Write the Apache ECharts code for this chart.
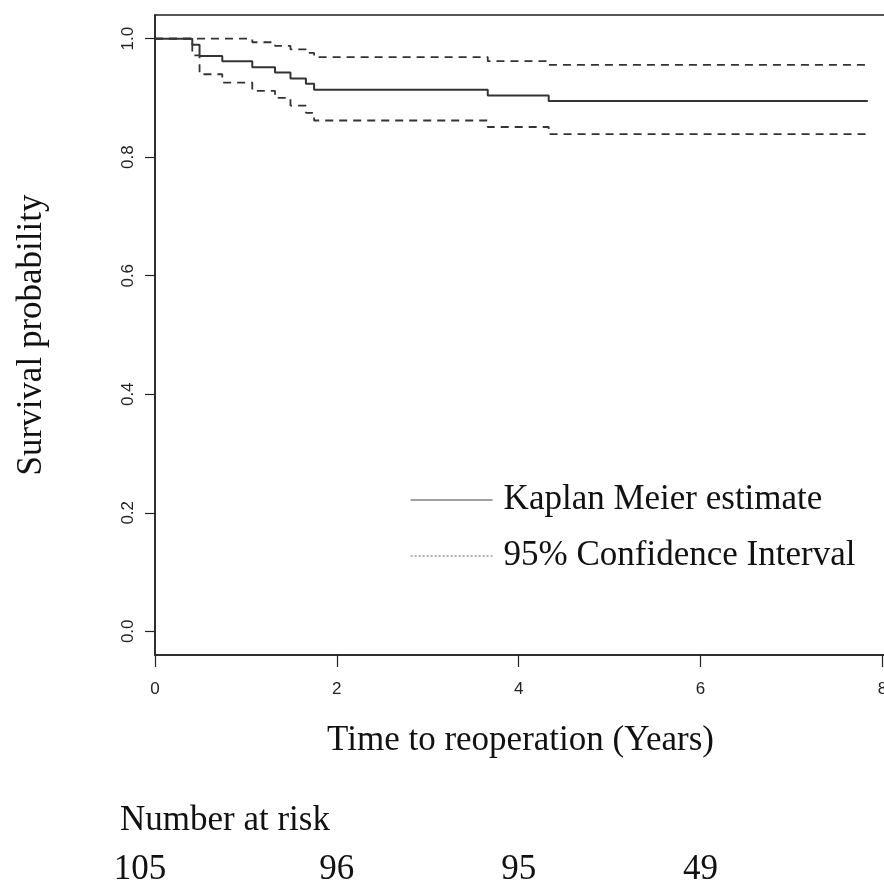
<!DOCTYPE html>
<html><head><meta charset="utf-8">
<script src="https://cdn.jsdelivr.net/npm/echarts@6/dist/echarts.min.js"></script>
<style>html,body{margin:0;padding:0;background:#fff}#c{width:884px;height:893px}</style>
</head><body><div id="c"></div>
<script>
// Kaplan-Meier estimate (time in years, survival probability)
const kmTimes = [0, 0.41, 0.49, 0.74, 1.07, 1.32, 1.49, 1.66, 1.75, 3.66, 4.33, 7.84];
const kmSurv  = [1, 0.990, 0.971, 0.962, 0.952, 0.943, 0.933, 0.924, 0.914, 0.904, 0.895, 0.895];
const ciUpper = [1, 1, 1, 1, 0.994, 0.988, 0.982, 0.976, 0.969, 0.962, 0.956, 0.956];
const ciLower = [1, 0.972, 0.940, 0.926, 0.912, 0.900, 0.887, 0.875, 0.862, 0.851, 0.839, 0.839];
const xTicks = [0, 2, 4, 6, 8];
const yTicks = [0, 0.2, 0.4, 0.6, 0.8, 1.0];
const riskTimes = [0, 2, 4, 6];
const riskCounts = [105, 96, 95, 49];

const SERIF = "'Liberation Serif', 'Times New Roman', serif";
const SANS = "'Liberation Sans', Arial, Helvetica, sans-serif";
const LINE = '#333';

const chart = echarts.init(document.getElementById('c'), null, {renderer: 'canvas'});
const pair = (ys) => kmTimes.map((t, i) => [t, ys[i]]);

chart.setOption({
  animation: false,
  backgroundColor: '#fff',
  grid: [
    {left: 155, top: 15, width: 731, height: 640, show: true, borderColor: '#222', borderWidth: 1.5,
     backgroundColor: 'transparent', outerBoundsMode: 'none', containLabel: false},
    {left: 155, top: 850, width: 731, height: 40, show: false, outerBoundsMode: 'none', containLabel: false}
  ],
  xAxis: [
    {
      type: 'value', gridIndex: 0, min: 0, max: 8.04,
      name: 'Time to reoperation (Years)', nameLocation: 'middle', nameGap: 68,
      nameTextStyle: {fontFamily: SERIF, fontSize: 35, color: '#111'},
      axisLine: {show: true, onZero: false, lineStyle: {color: '#222', width: 1.5}},
      axisTick: {show: true, inside: false, length: 12, customValues: xTicks, lineStyle: {color: '#222', width: 1.2}},
      axisLabel: {show: true, customValues: xTicks, margin: 26, fontFamily: SANS, fontSize: 17, color: '#222'},
      splitLine: {show: false}
    },
    {type: 'value', gridIndex: 1, min: 0, max: 8.04, show: false}
  ],
  yAxis: [
    {
      type: 'value', gridIndex: 0, min: -0.04, max: 1.04,
      name: 'Survival probability', nameLocation: 'middle', nameGap: 106, nameRotate: 90,
      nameTextStyle: {fontFamily: SERIF, fontSize: 35, color: '#111'},
      axisLine: {show: true, onZero: false, lineStyle: {color: '#222', width: 1.5}},
      axisTick: {show: true, length: 10, customValues: yTicks, lineStyle: {color: '#222', width: 1.2}},
      axisLabel: {show: true, customValues: yTicks, rotate: 90, margin: 18, fontFamily: SANS, fontSize: 17, color: '#222',
        formatter: v => v.toFixed(1)},
      splitLine: {show: false}
    },
    {type: 'value', gridIndex: 1, min: 0, max: 1, show: false}
  ],
  legend: {
    orient: 'vertical', left: 405, top: 477,
    itemWidth: 82, itemHeight: 20, itemGap: 20,
    itemStyle: {opacity: 0},
    textStyle: {fontFamily: SERIF, fontSize: 35, color: '#111', padding: [0, 0, 0, 6], lineHeight: 36},
    data: [
      {name: 'Kaplan Meier estimate', itemStyle: {opacity: 0}, lineStyle: {type: 'solid', width: 1.2, color: '#444'}},
      {name: '95% Confidence Interval', itemStyle: {opacity: 0}, lineStyle: {type: [2, 2], width: 1, color: '#666'}}
    ]
  },
  graphic: [
    {type: 'text', left: 120, top: 803, style: {text: 'Number at risk', font: '35px ' + SERIF, fill: '#111'}}
  ],
  series: [
    {
      name: 'Kaplan Meier estimate', type: 'line', xAxisIndex: 0, yAxisIndex: 0,
      step: 'end', showSymbol: false, symbol: 'none', data: pair(kmSurv),
      lineStyle: {color: LINE, width: 2}, itemStyle: {color: LINE}, silent: true
    },
    {
      name: '95% Confidence Interval', type: 'line', xAxisIndex: 0, yAxisIndex: 0,
      step: 'end', showSymbol: false, symbol: 'none', data: pair(ciUpper),
      lineStyle: {color: LINE, width: 1.8, type: [8, 6]}, itemStyle: {color: LINE}, silent: true
    },
    {
      name: '95% Confidence Interval', type: 'line', xAxisIndex: 0, yAxisIndex: 0,
      step: 'end', showSymbol: false, symbol: 'none', data: pair(ciLower),
      lineStyle: {color: LINE, width: 1.8, type: [8, 6]}, itemStyle: {color: LINE}, silent: true
    },
    {
      name: 'risk', type: 'scatter', xAxisIndex: 1, yAxisIndex: 1,
      symbolSize: 1, itemStyle: {color: '#fff', opacity: 1}, silent: true,
      data: riskTimes.map((t, i) => ({value: [t, 0.5, riskCounts[i]], label: i === 0 ? {offset: [-15, 0]} : {}})),
      label: {show: true, position: 'inside', formatter: p => String(p.value[2]),
        fontFamily: SERIF, fontSize: 35, color: '#111', textBorderWidth: 0}
    }
  ]
});
</script></body></html>
